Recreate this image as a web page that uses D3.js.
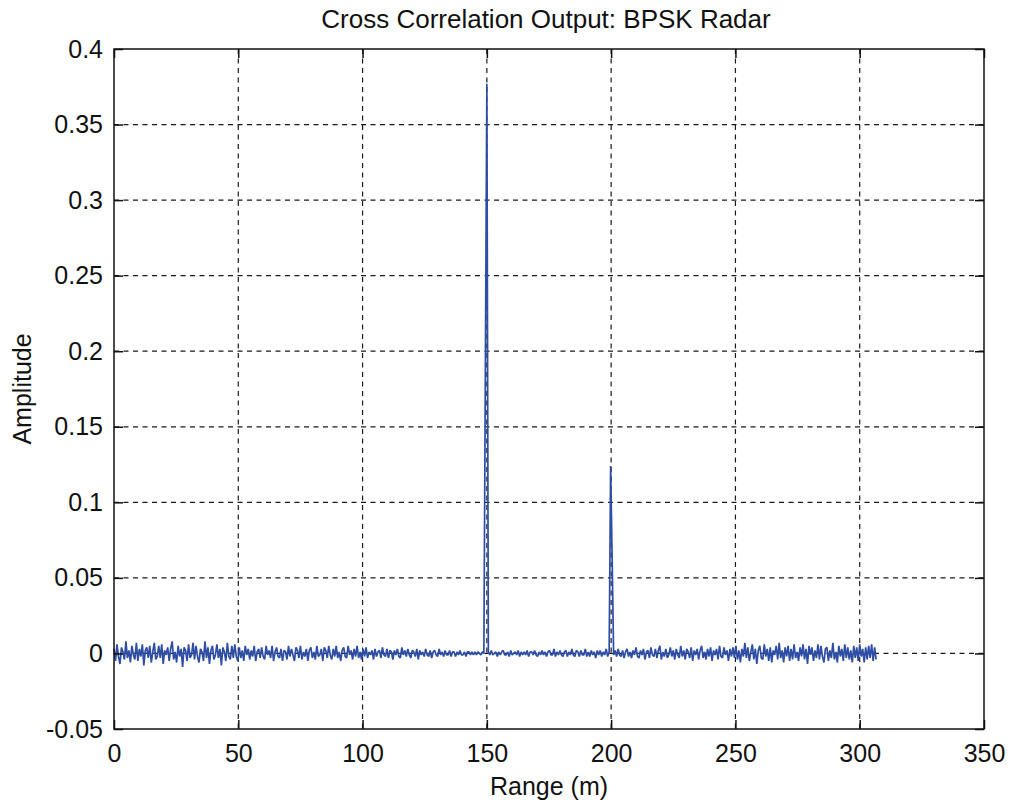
<!DOCTYPE html>
<html>
<head>
<meta charset="utf-8">
<script src="https://cdn.jsdelivr.net/npm/d3@7"></script>
<style>
  body { margin: 0; background: #fff; }
  text { font-family: "Liberation Sans", Arial, sans-serif; fill: #111; }
</style>
</head>
<body>
<div id="chart"></div>
<script>
// x ticks / y ticks
const xTicks = [0, 50, 100, 150, 200, 250, 300, 350];
const yTicks = [-0.05, 0, 0.05, 0.1, 0.15, 0.2, 0.25, 0.3, 0.35, 0.4];
const yTickLabels = ['-0.05', '0', '0.05', '0.1', '0.15', '0.2', '0.25', '0.3', '0.35', '0.4'];

// correlation output, one sample every 0.6 m, in thousandths
const noiseStep = 0.6;
const noiseMilli = [
  // 0 - 50 m
  3,-5,6,-2,-7,4,1,-4,8,-3,2,-6,5,-1,-4,7,-5,3,-2,6,
  -8,2,4,-3,5,-6,1,7,-4,-2,5,-3,6,-7,2,-1,4,-5,3,8,
  -4,1,-6,5,-2,3,-9,4,2,-5,6,-3,-1,7,-4,5,-2,-6,3,1,
  -5,8,-3,4,-7,2,5,-4,-1,6,-3,3,-8,4,1,-5,7,-2,-4,5,
  -3,6,-2,-5,
  // 50 - 100 m
  4,-3,2,-5,5,-1,3,-4,2,-2,5,-5,1,3,-3,4,-2,-4,5,-1,
  2,-3,5,-5,1,4,-2,-3,3,-5,2,1,-4,5,-2,3,-1,-5,4,2,
  -3,5,-4,1,-2,3,-5,2,4,-3,1,-4,5,-2,-1,3,-5,4,2,-3,
  5,-1,-4,3,-2,5,-3,1,-5,2,4,-2,-3,5,-1,2,-4,3,-2,5,
  -3,1,-4,
  // 100 - 150 m
  3,-2,4,-3,1,-1,2,-4,3,-2,1,2,-3,4,-1,-2,3,-3,2,1,
  -4,2,-1,3,-2,-3,4,-1,2,-2,3,-1,-3,2,1,-2,3,-4,2,-1,
  1,-2,3,-1,-2,2,-3,1,2,-1,-2,3,-1,1,-2,2,-1,-1,2,-2,
  1,1,-2,1,-1,2,-1,-1,1,-2,1,1,-1,1,-1,1,-1,1,0,-1,
  1,0,
  0,0,
  // 150 - 200 m
  1,-1,2,-1,0,1,-2,1,-1,1,2,-1,-1,1,-2,2,-1,0,1,-1,
  2,-2,1,-1,1,-1,2,-2,1,1,-1,2,-1,-2,1,-1,2,-1,1,-2,
  1,2,-1,-1,3,-2,1,-1,2,-1,-2,1,2,-2,1,-1,3,-1,-2,2,
  1,-2,2,-1,-1,3,-2,1,-2,2,-1,1,-3,2,-1,2,-2,1,-1,3,
  -2,1,
  0,0,
  // 200 - 250 m
  -1,2,-2,3,-1,-2,2,-3,1,3,-2,1,-3,2,-1,4,-2,-3,2,-1,
  3,-4,1,2,-3,4,-1,-2,3,-3,2,5,-4,1,-2,3,-3,-1,4,-2,
  2,-4,3,-1,-3,5,-2,2,-4,3,1,-3,4,-5,2,-1,3,-4,2,5,
  -3,1,-4,3,-2,4,-5,2,-1,3,-4,5,-2,-3,4,-1,2,-5,3,-2,
  4,-3,
  // 250 - 307 m
  5,-4,2,-6,3,-2,7,-3,4,-5,1,6,-4,3,-7,2,5,-3,-4,6,
  -2,3,-5,4,-6,2,-1,5,-4,7,-3,2,-6,4,-2,5,-5,3,-4,6,
  -3,1,-5,4,-2,6,-4,3,-7,5,-1,4,-5,2,-3,6,-4,5,-2,-6,
  3,4,-5,2,-3,7,-4,1,-6,5,-2,3,-5,6,-3,4,-4,2,-6,5,
  -3,4,-5,6,-2,3,-6,4,-4,5,-3,6,-5,4,-4
];

// target returns
const peakRange = [149.4, 150.0, 199.8, 200.4];
const peakAmp = [0.188, 0.377, 0.124, 0.063];

const W = 1010, H = 803;
const plotLeft = 114, plotRight = 984, plotTop = 49, plotBottom = 729;

const series = noiseMilli.map((v, i) => ({ range: i * noiseStep, amp: v / 1000 }));
peakRange.forEach((r, k) => {
    series[Math.round(r / noiseStep)].amp = peakAmp[k];
});

const svg = d3.select('#chart')
.append('svg')
.attr('width', W)
.attr('height', H);

svg.append('rect').attr('width', W).attr('height', H).attr('fill', '#fff');

const x = d3.scaleLinear().domain([0, 350]).range([plotLeft, plotRight]);
const y = d3.scaleLinear().domain([-0.05, 0.4]).range([plotBottom, plotTop]);

// grid
const grid = svg.append('g')
.attr('stroke', '#1a1a1a')
.attr('stroke-width', 1.2)
.attr('stroke-dasharray', '5,4.5');

grid.selectAll('.vgrid')
.data(xTicks.slice(1, -1))
.enter()
.append('line')
.attr('x1', d => x(d)).attr('x2', d => x(d))
.attr('y1', plotTop).attr('y2', plotBottom);

grid.selectAll('.hgrid')
.data(yTicks.slice(1, -1))
.enter()
.append('line')
.attr('y1', d => y(d)).attr('y2', d => y(d))
.attr('x1', plotLeft).attr('x2', plotRight);

// data
const line = d3.line()
.x(d => x(d.range))
.y(d => y(d.amp));

svg.append('path')
.datum(series)
.attr('fill', 'none')
.attr('stroke', '#2e4da5')
.attr('stroke-width', 1.7)
.attr('stroke-linejoin', 'bevel')
.attr('d', line);

// axes, ticks point inward
const fontSize = '25px';

svg.append('g')
.attr('transform', `translate(0, ${plotBottom})`)
.call(d3.axisBottom(x).tickValues(xTicks).tickSize(-9).tickPadding(15).tickFormat(d3.format('d')));

svg.append('g')
.attr('transform', `translate(0, ${plotTop})`)
.call(d3.axisTop(x).tickValues(xTicks).tickSize(-9).tickFormat(''));

svg.append('g')
.attr('transform', `translate(${plotLeft}, 0)`)
.call(d3.axisLeft(y).tickValues(yTicks).tickSize(-9).tickPadding(11)
    .tickFormat((d, i) => yTickLabels[i]));

svg.append('g')
.attr('transform', `translate(${plotRight}, 0)`)
.call(d3.axisRight(y).tickValues(yTicks).tickSize(-9).tickFormat(''));

svg.selectAll('.domain').remove();
svg.selectAll('.tick line').attr('stroke', '#111').attr('stroke-width', 1.5);
svg.selectAll('.tick text')
.style('font-family', '"Liberation Sans", Arial, sans-serif')
.style('font-size', fontSize)
.attr('fill', '#111');

// frame
svg.append('rect')
.attr('x', plotLeft).attr('y', plotTop)
.attr('width', plotRight - plotLeft).attr('height', plotBottom - plotTop)
.attr('fill', 'none')
.attr('stroke', '#111')
.attr('stroke-width', 1.5);

// labels
svg.append('text')
.attr('x', (plotLeft + plotRight) / 2 - 3)
.attr('y', 28)
.attr('text-anchor', 'middle')
.style('font-size', '26px')
.text('Cross Correlation Output: BPSK Radar');

svg.append('text')
.attr('x', (plotLeft + plotRight) / 2)
.attr('y', 795)
.attr('text-anchor', 'middle')
.style('font-size', fontSize)
.text('Range (m)');

svg.append('text')
.attr('transform', `translate(31, ${(plotTop + plotBottom) / 2}) rotate(-90)`)
.attr('text-anchor', 'middle')
.style('font-size', fontSize)
.text('Amplitude');
</script>
</body>
</html>
